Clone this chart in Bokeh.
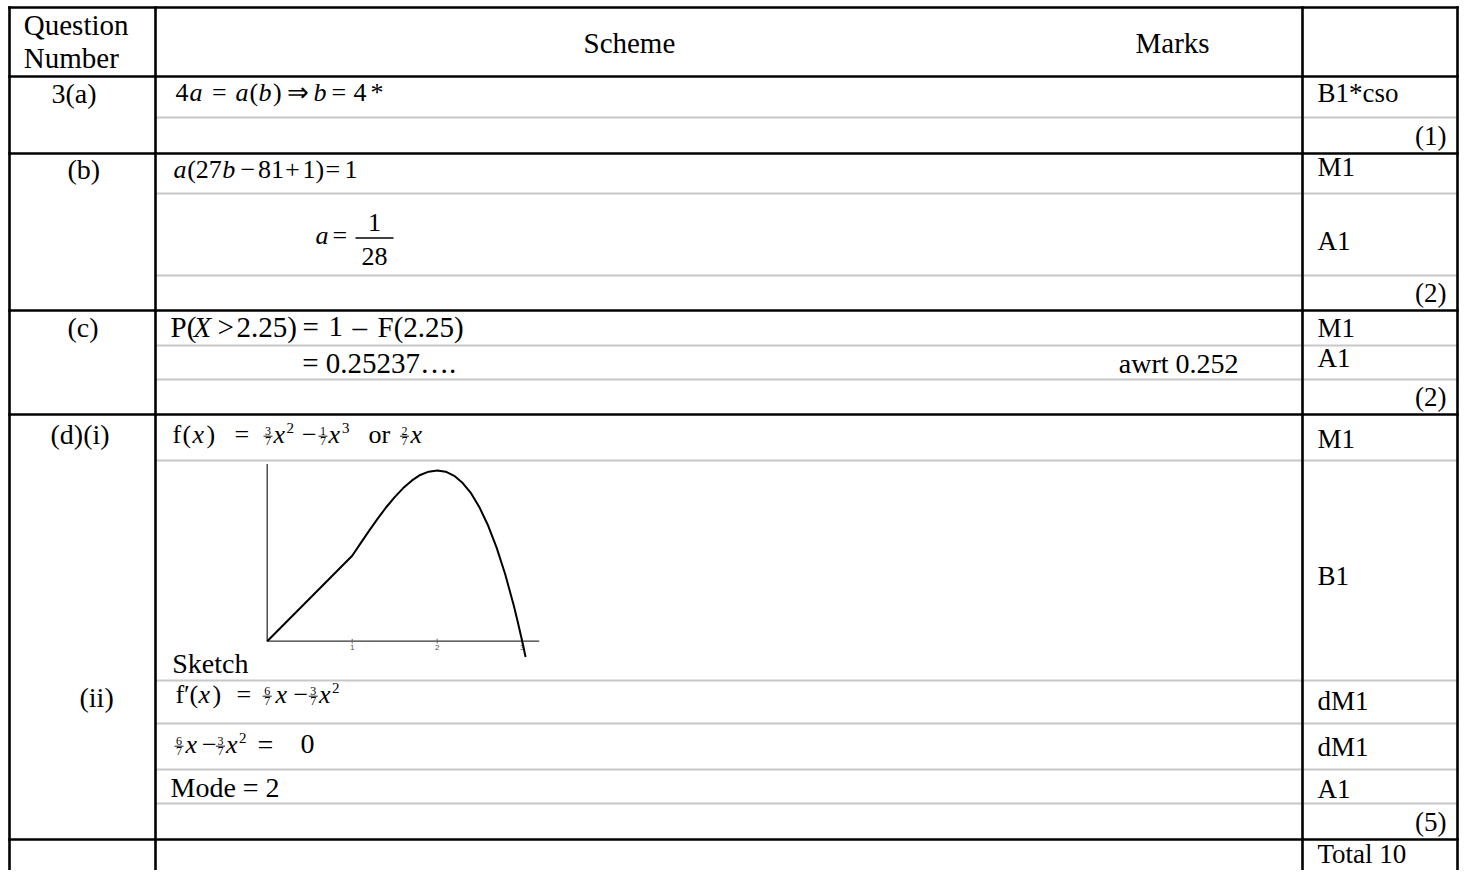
from bokeh.plotting import figure
from bokeh.models import Range1d, ColumnDataSource
from bokeh.core.properties import value, field
from bokeh.embed import file_html
from bokeh.resources import INLINE

# ------------------------------------------------------------------ data
header_left = ["Question", "Number"]
header_mid = ["Scheme", "Marks"]
part_labels = ["3(a)", "(b)", "(c)", "(d)(i)", "(ii)"]
mark_codes = ["B1*cso", "M1", "A1", "M1", "A1", "M1", "B1", "dM1", "dM1", "A1"]
part_totals = ["(1)", "(2)", "(2)", "(5)"]
grand_total = "Total 10"
note_c = "awrt 0.252"
value_c = "= 0.25237…."
sketch_word = "Sketch"
mode_line = "Mode = 2"

eq_a = ["4", "a", "=", "a", "(", "b", ")", "⇒", "b", "=", "4", "*"]
eq_b1 = ["a", "(27", "b", "−", "81", "+", "1)", "=", "1"]
eq_b2_lhs = ["a", "="]
eq_b2_frac = ("1", "28")
eq_c = ["P(", "X", ">", "2.25)", "=", "1", "–", "F(2.25)"]
eq_d1 = ["f", "(", "x", ")", "=", ("3", "7"), "x", "2", "−", ("1", "7"), "x", "3", "or", ("2", "7"), "x"]
eq_d2 = ["f", "′", "(", "x", ")", "=", ("6", "7"), "x", "−", ("3", "7"), "x", "2"]
eq_d3 = [("6", "7"), "x", "−", ("3", "7"), "x", "2", "=", "0"]

# sketch of f(x)
sketch_x = [0.0, 0.5, 1.0, 1.1, 1.2, 1.3, 1.4, 1.5, 1.6, 1.7, 1.8, 1.9, 2.0,
            2.1, 2.2, 2.3, 2.4, 2.5, 2.6, 2.7, 2.8, 2.9, 2.95, 3.0, 3.04]
sketch_y = [0.0, 0.143, 0.286, 0.328, 0.370, 0.410, 0.448, 0.482, 0.512, 0.537,
            0.556, 0.567, 0.571, 0.567, 0.553, 0.529, 0.494, 0.446, 0.386, 0.312,
            0.224, 0.120, 0.062, 0.0, -0.053]
sketch_ticks = [1, 2, 3]
sketch_tick_labels = ["1", "2", "3"]

# ------------------------------------------------------------------ layout
FONT = "Liberation Serif"
W, H = 1462, 870
X0, X1 = 0, W
Y_TOP, Y_BOT = 0, H
BASE_K = 0.33   # shift so that y is the alphabetic baseline

col_x = [9, 155, 1302, 1457]
black_y = [7, 76, 153, 310, 414, 839]
gray_y = [117, 193, 275, 345, 379, 460, 680, 723, 769, 803]

p = figure(width=W, height=H, x_range=Range1d(X0, X1), y_range=Range1d(Y_BOT, Y_TOP),
           output_backend="svg", toolbar_location=None, min_border=0,
           x_axis_location=None, y_axis_location=None)
p.xgrid.visible = False
p.ygrid.visible = False
p.outline_line_color = None
p.background_fill_color = "white"
p.border_fill_color = "white"

# table rules
p.segment(x0=[col_x[1]] * len(gray_y), x1=[col_x[-1]] * len(gray_y), y0=gray_y, y1=gray_y,
          line_color="#c8c8c8", line_width=2)
p.segment(x0=[col_x[0] - 1.3] * len(black_y), x1=[col_x[-1] + 1.3] * len(black_y),
          y0=black_y, y1=black_y, line_color="black", line_width=2.6)
p.segment(x0=col_x, x1=col_x, y0=[black_y[0] - 1.3] * len(col_x), y1=[Y_BOT + 5] * len(col_x),
          line_color="black", line_width=2.6)

recs = {"x": [], "y": [], "text": [], "size": [], "style": [], "align": []}
bars = {"x0": [], "x1": [], "y": [], "w": []}


def put(x, y, t, size, style="normal", align="left"):
    recs["x"].append(x)
    recs["y"].append(y - BASE_K * size)
    recs["text"].append(t)
    recs["size"].append(f"{size}px")
    recs["style"].append(style)
    recs["align"].append(align)


def small_frac(xc, base, nd):
    put(xc, base - 8.6, nd[0], 12, align="center")
    put(xc, base + 1.8, nd[1], 12, align="center")
    bars["x0"].append(xc - 4.5)
    bars["x1"].append(xc + 4.5)
    bars["y"].append(base - 7.3)
    bars["w"].append(0.9)


def equation(tokens, layout, base, size=26):
    for tok, (x, kind) in zip(tokens, layout):
        if kind == "frac":
            small_frac(x, base, tok)
        elif kind == "sup":
            put(x, base - 11, tok, 15)
        elif kind == "i":
            put(x, base, tok, size, "italic")
        elif kind == "big":
            put(x, base, tok, 28)
        else:
            put(x, base, tok, size)


# header
put(23.3, 34, header_left[0], 29)
put(23.3, 67, header_left[1], 29)
put(583, 52, header_mid[0], 29)
put(1135, 52, header_mid[1], 29)

# question part labels
for t, (x, y) in zip(part_labels, [(51, 102), (67, 178), (67, 336), (50, 443), (79, 706)]):
    put(x, y, t, 28)

# marks column
for t, y in zip(mark_codes, [101, 175, 249, 336, 366, 447, 584, 709, 755, 797]):
    put(1317, y, t, 27)
for t, y in zip(part_totals, [144, 301, 405, 830]):
    put(1446, y, t, 27, align="right")
put(1317, 862, grand_total, 27)

# scheme column
equation(eq_a, [(175, "r"), (189, "i"), (211.5, "r"), (235, "i"), (249, "r"), (258, "i"),
                (272.5, "r"), (286.5, "r"), (313, "i"), (331, "r"), (353, "r"), (370, "r")], 101)
equation(eq_b1, [(173, "i"), (186.7, "r"), (221.7, "i"), (240, "r"), (257.5, "r"), (284.5, "r"),
                 (302, "r"), (325, "r"), (344, "r")], 178)
equation(eq_b2_lhs, [(315, "i"), (332, "r")], 244)
put(374, 231, eq_b2_frac[0], 26, align="center")
put(374, 265, eq_b2_frac[1], 26, align="center")
bars["x0"].append(355); bars["x1"].append(393); bars["y"].append(237.5); bars["w"].append(1.3)

equation(eq_c, [(170, "r"), (193, "i"), (217, "r"), (236, "r"), (302, "r"), (328, "r"),
                (352, "r"), (377, "r")], 336, size=29)
put(301.7, 372, value_c, 29)
put(1238, 372, note_c, 28, align="right")

equation(eq_d1, [(172, "r"), (182, "r"), (192, "i"), (206, "r"), (234, "r"), (267.5, "frac"),
                 (273, "i"), (286, "sup"), (301.5, "r"), (322.5, "frac"), (328, "i"),
                 (341.5, "sup"), (368, "r"), (404, "frac"), (410, "i")], 443)
put(171.7, 672, sketch_word, 28)
equation(eq_d2, [(175, "r"), (183.5, "r"), (189, "r"), (198, "i"), (212, "r"), (236, "r"),
                 (266.7, "frac"), (275, "i"), (293, "r"), (312.8, "frac"), (318.5, "i"),
                 (331.5, "sup")], 703)
equation(eq_d3, [(178.5, "frac"), (185, "i"), (201.5, "r"), (220, "frac"), (225.5, "i"),
                 (238.5, "sup"), (257, "big"), (300, "big")], 753)
put(170, 796, mode_line, 28)

p.segment(x0="x0", x1="x1", y0="y", y1="y", line_width="w", line_color="black",
          source=ColumnDataSource(bars))
p.text(x="x", y="y", text="text", source=ColumnDataSource(recs),
       text_font=value(FONT), text_font_size=field("size"), text_font_style=field("style"),
       text_align=field("align"), text_baseline=value("alphabetic"), text_color="black")

# ------------------------------------------------------------------ sketch
SK_OX, SK_OY, SK_SX, SK_SY = 266.7, 640.7, 85.0, 299.0
p.extra_x_ranges = {"sk": Range1d((X0 - SK_OX) / SK_SX, (X1 - SK_OX) / SK_SX)}
p.extra_y_ranges = {"sk": Range1d((SK_OY - Y_BOT) / SK_SY, (SK_OY - Y_TOP) / SK_SY)}
sk_xmax, sk_ymax = 3.2, 0.593
p.segment(x0=[0, 0], y0=[0, 0], x1=[sk_xmax, 0], y1=[0, sk_ymax],
          x_range_name="sk", y_range_name="sk", line_color="#333333", line_width=1.3)
p.segment(x0=sketch_ticks, x1=sketch_ticks, y0=[-0.008] * 3, y1=[0.008] * 3,
          x_range_name="sk", y_range_name="sk", line_color="#666666", line_width=1)
p.text(x=sketch_ticks, y=[-0.014] * 3, text=sketch_tick_labels, x_range_name="sk",
       y_range_name="sk", text_font=value("Liberation Sans"), text_font_size=value("8px"),
       text_align="center", text_baseline="top", text_color="#555555")
p.line(sketch_x, sketch_y, x_range_name="sk", y_range_name="sk", line_color="black",
       line_width=2)

open("out.html", "w").write(file_html(p, INLINE))
